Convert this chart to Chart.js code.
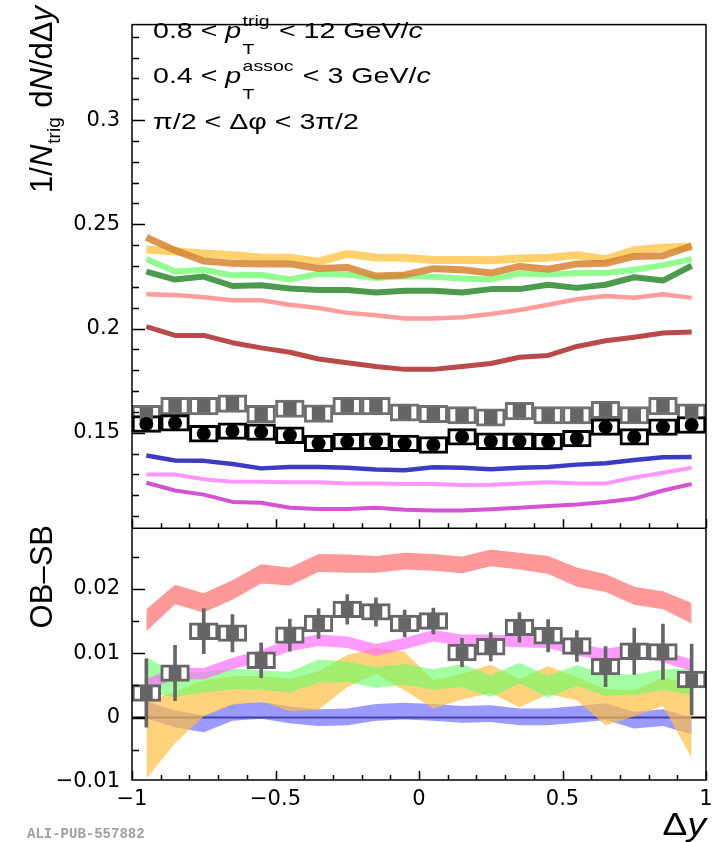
<!DOCTYPE html>
<html>
<head>
<meta charset="utf-8">
<script src="https://cdn.jsdelivr.net/npm/chart.js@4.4.0/dist/chart.umd.min.js"></script>
<style>
html, body { margin: 0; padding: 0; background: #fff; }
canvas { display: block; }
</style>
</head>
<body>
<canvas id="plot" width="725" height="842"></canvas>
<script>
// bin centres in delta-y
var dy = [-0.95, -0.85, -0.75, -0.65, -0.55, -0.45, -0.35, -0.25, -0.15, -0.05,
          0.05, 0.15, 0.25, 0.35, 0.45, 0.55, 0.65, 0.75, 0.85, 0.95];

var xTicks = [-1, -0.5, 0, 0.5, 1];
var xTickLabels = ['\u22121', '\u22120.5', '0', '0.5', '1'];
var topTicks = [0.15, 0.2, 0.25, 0.3];
var topTickLabels = ['0.15', '0.2', '0.25', '0.3'];
var botTicks = [-0.01, 0, 0.01, 0.02];
var botTickLabels = ['\u22120.01', '0', '0.01', '0.02'];

// upper panel, 1/Ntrig dN/d(delta y)
var yellowTop = [0.2379, 0.2369, 0.2360, 0.2352, 0.2341, 0.2340, 0.2321, 0.2358, 0.2341, 0.2340,
                 0.2329, 0.2329, 0.2327, 0.2336, 0.2340, 0.2352, 0.2332, 0.2375, 0.2388, 0.2393];
var orangeTop = [0.2437, 0.2375, 0.2324, 0.2313, 0.2310, 0.2310, 0.2288, 0.2293, 0.2252, 0.2257,
                 0.2287, 0.2282, 0.2266, 0.2298, 0.2284, 0.2310, 0.2313, 0.2346, 0.2349, 0.2396];
var ltGreenTop = [0.2333, 0.2274, 0.2282, 0.2255, 0.2257, 0.2235, 0.2262, 0.2259, 0.2242, 0.2251,
                  0.2248, 0.2240, 0.2235, 0.2264, 0.2259, 0.2266, 0.2266, 0.2282, 0.2304, 0.2332];
var dkGreenTop = [0.2273, 0.2235, 0.2249, 0.2204, 0.2208, 0.2192, 0.2185, 0.2185, 0.2173, 0.2181,
                  0.2181, 0.2173, 0.2189, 0.2189, 0.2210, 0.2195, 0.2210, 0.2246, 0.2230, 0.2301];
var ltRedTop = [0.2164, 0.2161, 0.2150, 0.2136, 0.2136, 0.2114, 0.2098, 0.2075, 0.2064, 0.2048,
                0.2048, 0.2054, 0.2070, 0.2089, 0.2114, 0.2140, 0.2156, 0.2148, 0.2164, 0.2147];
var dkRedTop = [0.2009, 0.1967, 0.1967, 0.1932, 0.1907, 0.1886, 0.1854, 0.1836, 0.1818, 0.1804,
                0.1804, 0.1818, 0.1832, 0.1862, 0.1871, 0.1914, 0.1941, 0.1958, 0.1978, 0.1983];
var grayTop = [0.1589, 0.1628, 0.1628, 0.1640, 0.1589, 0.1615, 0.1592, 0.1628, 0.1628, 0.1597,
               0.1590, 0.1584, 0.1573, 0.1604, 0.1584, 0.1584, 0.1609, 0.1584, 0.1628, 0.1597];
var blackTop = [0.1542, 0.1547, 0.1495, 0.1508, 0.1503, 0.1488, 0.1449, 0.1457, 0.1459, 0.1449,
                0.1441, 0.1480, 0.1459, 0.1459, 0.1457, 0.1472, 0.1527, 0.1480, 0.1527, 0.1537];
var grayTopSys = 0.0042;
var blackTopSys = 0.0040;
var blueTop = [0.1391, 0.1367, 0.1365, 0.1350, 0.1329, 0.1336, 0.1336, 0.1332, 0.1324, 0.1320,
               0.1334, 0.1332, 0.1325, 0.1332, 0.1336, 0.1347, 0.1354, 0.1369, 0.1382, 0.1383];
var pinkTop = [0.1300, 0.1300, 0.1277, 0.1265, 0.1265, 0.1262, 0.1262, 0.1257, 0.1257, 0.1254,
               0.1254, 0.1249, 0.1250, 0.1257, 0.1262, 0.1257, 0.1257, 0.1285, 0.1308, 0.1332];
var magentaTop = [0.1260, 0.1223, 0.1203, 0.1168, 0.1164, 0.1140, 0.1134, 0.1134, 0.1140, 0.1131,
                  0.1127, 0.1127, 0.1133, 0.1140, 0.1148, 0.1156, 0.1168, 0.1184, 0.1223, 0.1254];

// lower panel, OB-SB
var redDiff = [0.0151, 0.0191, 0.0178, 0.0198, 0.0223, 0.0219, 0.0240, 0.0239, 0.0238, 0.0243,
               0.0241, 0.0237, 0.0248, 0.0243, 0.0237, 0.0218, 0.0209, 0.0189, 0.0182, 0.0162];
var redErr = [0.0017, 0.0015, 0.0015, 0.0015, 0.0015, 0.0014, 0.0014, 0.0014, 0.0013, 0.0013,
              0.0013, 0.0013, 0.0013, 0.0013, 0.0014, 0.0015, 0.0014, 0.0014, 0.0014, 0.0016];
var magentaDiff = [0.0051, 0.0069, 0.0068, 0.0084, 0.0096, 0.0112, 0.0120, 0.0117, 0.0105, 0.0115,
                   0.0127, 0.0120, 0.0120, 0.0118, 0.0117, 0.0105, 0.0098, 0.0105, 0.0095, 0.0081];
var magentaErr = 0.0009;
var greenDiff = [0.0066, 0.0050, 0.0055, 0.0060, 0.0058, 0.0055, 0.0072, 0.0071, 0.0062, 0.0067,
                 0.0059, 0.0065, 0.0049, 0.0069, 0.0048, 0.0065, 0.0051, 0.0051, 0.0059, 0.0055];
var greenErr = [0.0028, 0.0018, 0.0016, 0.0016, 0.0015, 0.0016, 0.0018, 0.0016, 0.0016, 0.0016,
                0.0016, 0.0018, 0.0017, 0.0016, 0.0017, 0.0016, 0.0017, 0.0016, 0.0016, 0.0020];
var orangeDiff = [-0.0035, 0.0000, 0.0030, 0.0042, 0.0045, 0.0035, 0.0042, 0.0072, 0.0088, 0.0072,
                  0.0036, 0.0048, 0.0060, 0.0038, 0.0058, 0.0045, 0.0016, 0.0022, 0.0040, -0.0005];
var orangeErr = [0.0060, 0.0040, 0.0028, 0.0022, 0.0020, 0.0025, 0.0030, 0.0025, 0.0020, 0.0030,
                 0.0022, 0.0020, 0.0022, 0.0022, 0.0022, 0.0018, 0.0028, 0.0020, 0.0022, 0.0058];
var blueDiff = [0.0012, -0.0002, -0.0010, 0.0008, 0.0011, 0.0004, 0.0000, 0.0001, 0.0008, 0.0010,
                0.0008, 0.0005, 0.0006, 0.0001, 0.0001, 0.0005, 0.0009, -0.0004, 0.0000, -0.0013];
var blueErr = 0.0013;
var grayDiff = [0.0038, 0.0069, 0.0134, 0.0131, 0.0089, 0.0128, 0.0146, 0.0168, 0.0164, 0.0146,
                0.0150, 0.0101, 0.0110, 0.0140, 0.0127, 0.0111, 0.0079, 0.0103, 0.0102, 0.0059];
var grayStat = [0.0053, 0.0043, 0.0035, 0.0029, 0.0027, 0.0025, 0.0023, 0.0023, 0.0022, 0.0021,
                0.0020, 0.0022, 0.0022, 0.0023, 0.0025, 0.0024, 0.0031, 0.0036, 0.0043, 0.0055];
var graySys = 0.0013;

Chart.defaults.font.family = 'DejaVu Sans';
Chart.defaults.color = '#000';

function errAt(err, i) { return typeof err === 'number' ? err : err[i]; }
function pts(vals) { return vals.map(function (v, i) { return { x: dy[i], y: v }; }); }
function shifted(vals, err, sgn) { return vals.map(function (v, i) { return { x: dy[i], y: v + sgn * errAt(err, i) }; }); }
function spans(vals, err) { return vals.map(function (v, i) { return { x: dy[i], y: [v - errAt(err, i), v + errAt(err, i)] }; }); }

// pushed back to front
var datasets = [];
function add(ds) { ds.order = -datasets.length; datasets.push(ds); }

function topLine(vals, color, w) {
  add({ type: 'line', yAxisID: 'yTop', data: pts(vals), borderColor: color, borderWidth: w,
        pointRadius: 0, fill: false, tension: 0, borderCapStyle: 'butt', borderJoinStyle: 'round' });
}
function band(vals, err, color) {
  add({ type: 'line', yAxisID: 'yBot', data: shifted(vals, err, -1), borderWidth: 0,
        borderColor: 'rgba(0,0,0,0)', pointRadius: 0, fill: false });
  add({ type: 'line', yAxisID: 'yBot', data: shifted(vals, err, 1), borderWidth: 0,
        borderColor: 'rgba(0,0,0,0)', pointRadius: 0, fill: '-1', backgroundColor: color });
}
function boxes(axis, vals, err, color) {
  add({ type: 'bar', yAxisID: axis, data: spans(vals, err), backgroundColor: '#fff',
        borderColor: color, borderWidth: 3, borderSkipped: false, grouped: false,
        barPercentage: 1, categoryPercentage: 1 });
}
function markers(axis, vals, style, r, color) {
  add({ type: 'line', yAxisID: axis, data: pts(vals), showLine: false, pointStyle: style,
        pointRadius: r, pointBackgroundColor: color, pointBorderWidth: 0 });
}

// upper panel
topLine(dkRedTop, '#b94a4a', 5);
topLine(ltRedTop, '#ff9c9c', 4.5);
topLine(dkGreenTop, '#4c9a4c', 6);
topLine(ltGreenTop, '#90ff90', 6);
topLine(yellowTop, 'rgba(255,205,95,0.92)', 8);
topLine(orangeTop, 'rgba(214,132,52,0.85)', 7);
topLine(blueTop, '#3b3bc4', 4.5);
topLine(pinkTop, '#ff96ff', 4);
topLine(magentaTop, '#d452d4', 4);
boxes('yTop', grayTop, grayTopSys, '#707070');
boxes('yTop', blackTop, blackTopSys, '#000');
markers('yTop', grayTop, 'rect', 9.5, '#666');
markers('yTop', blackTop, 'circle', 7, '#000');

// lower panel
add({ type: 'line', yAxisID: 'yBot', data: [{ x: -1, y: 0 }, { x: 1, y: 0 }],
      borderColor: '#000', borderWidth: 2, pointRadius: 0, fill: false });
band(blueDiff, blueErr, 'rgba(100,100,255,0.65)');
band(orangeDiff, orangeErr, 'rgba(255,190,60,0.68)');
band(greenDiff, greenErr, 'rgba(100,255,100,0.6)');
band(magentaDiff, magentaErr, 'rgba(255,100,255,0.65)');
band(redDiff, redErr, 'rgba(255,110,110,0.7)');
add({ type: 'bar', yAxisID: 'yBot', data: spans(grayDiff, grayStat), backgroundColor: '#666',
      borderWidth: 0, barThickness: 3, grouped: false });
boxes('yBot', grayDiff, graySys, '#666');
markers('yBot', grayDiff, 'rect', 9, '#666');

var FONT = '"Liberation Sans"';
function fontOf(size, it) { return (it ? 'italic ' : '') + size + 'px ' + FONT; }
function runs(ctx, parts, size, x, y, draw) {
  parts.forEach(function (p) {
    if (p.t !== undefined) {
      ctx.font = fontOf(size, p.it);
      if (draw) ctx.fillText(p.t, x, y);
      x += ctx.measureText(p.t).width;
    } else {
      var s = Math.round(size * (p.scale || 0.68)), w = 0;
      ctx.font = fontOf(s, false);
      if (p.sup) {
        if (draw) ctx.fillText(p.sup, x + 1, y - size * 0.53);
        w = Math.max(w, ctx.measureText(p.sup).width);
      }
      if (p.sub) {
        if (draw) ctx.fillText(p.sub, x + 1, y + size * (p.subDy || 0.72));
        w = Math.max(w, ctx.measureText(p.sub).width);
      }
      x += w + 2;
    }
  });
  return x;
}

var decor = {
  id: 'decor',
  afterDraw: function (chart) {
    var ctx = chart.ctx, a = chart.chartArea;
    var sx = chart.scales.x, sT = chart.scales.yTop, sB = chart.scales.yBot;
    ctx.save();
    ctx.strokeStyle = '#000';
    ctx.lineWidth = 1.5;
    ctx.beginPath();
    function yMarks(s, major, step, big, small) {
      for (var k = Math.ceil(s.min / step - 1e-6); k * step <= s.max + 1e-9; k++) {
        var v = k * step;
        var isMajor = major.some(function (m) { return Math.abs(m - v) < 1e-7; });
        var py = Math.round(s.getPixelForValue(v)) + 0.5;
        ctx.moveTo(a.left, py);
        ctx.lineTo(a.left + (isMajor ? big : small), py);
      }
    }
    function xMarks(edge) {
      for (var k = -10; k <= 10; k++) {
        var v = k / 10;
        var isMajor = xTicks.some(function (m) { return Math.abs(m - v) < 1e-7; });
        var px = Math.round(sx.getPixelForValue(v)) + 0.5;
        ctx.moveTo(px, edge);
        ctx.lineTo(px, edge - (isMajor ? 9 : 5));
      }
    }
    yMarks(sT, topTicks, 0.01, 13, 7);
    yMarks(sB, botTicks, 0.005, 13, 7);
    xMarks(sT.bottom);
    xMarks(sB.bottom);
    ctx.stroke();
    ctx.strokeRect(a.left, a.top, a.right - a.left, a.bottom - a.top);
    ctx.beginPath();
    ctx.moveTo(a.left, sT.bottom);
    ctx.lineTo(a.right, sT.bottom);
    ctx.stroke();

    ctx.fillStyle = '#000';
    ctx.textBaseline = 'alphabetic';
    ctx.textAlign = 'left';
    var lines = [
      [{ t: '0.8 < ' }, { t: 'p', it: true }, { sub: 'T', sup: 'trig' }, { t: ' < 12 GeV/' }, { t: 'c', it: true }],
      [{ t: '0.4 < ' }, { t: 'p', it: true }, { sub: 'T', sup: 'assoc' }, { t: ' < 3 GeV/' }, { t: 'c', it: true }],
      [{ t: '\u03c0/2 < \u0394\u03c6 < 3\u03c0/2' }]
    ];
    var bases = [38, 83, 129];
    lines.forEach(function (parts, i) {
      ctx.save();
      ctx.translate(153, bases[i]);
      ctx.scale(1.3, 1);
      runs(ctx, parts, 22, 0, 0, true);
      ctx.restore();
    });

    function vTitle(parts, size, x, yEnd) {
      ctx.save();
      ctx.translate(x, yEnd);
      ctx.rotate(-Math.PI / 2);
      var w = runs(ctx, parts, size, 0, 0, false);
      runs(ctx, parts, size, -w, 0, true);
      ctx.restore();
    }
    vTitle([{ t: '1/' }, { t: 'N', it: true }, { sub: 'trig', subDy: 0.25, scale: 0.62 },
            { t: ' d' }, { t: 'N', it: true }, { t: '/d\u0394' }, { t: 'y', it: true }],
           31, 52, 6);
    vTitle([{ t: 'OB\u2013SB' }], 31, 52, 525);

    ctx.save();
    ctx.translate(706, 835);
    ctx.scale(1.2, 1);
    var parts = [{ t: '\u0394' }, { t: 'y', it: true }];
    var w = runs(ctx, parts, 31, 0, 0, false);
    runs(ctx, parts, 31, -w, 0, true);
    ctx.restore();

    ctx.font = 'bold 14px "Liberation Mono"';
    ctx.fillStyle = '#a0a0a0';
    ctx.fillText('ALI-PUB-557882', 27, 838);
    ctx.restore();
  }
};

function fixedTicks(vals) {
  return function (s) { s.ticks = vals.map(function (v) { return { value: v }; }); };
}

new Chart(document.getElementById('plot'), {
  type: 'line',
  data: { datasets: datasets },
  options: {
    responsive: false,
    animation: false,
    devicePixelRatio: 1,
    layout: { padding: { left: 0, right: 19, top: 5, bottom: 0 } },
    plugins: { legend: { display: false }, tooltip: { enabled: false } },
    scales: {
      x: {
        type: 'linear', position: 'bottom', min: -1, max: 1, offset: false,
        grid: { display: false, drawTicks: false, offset: false }, border: { display: false },
        afterBuildTicks: fixedTicks(xTicks),
        afterFit: function (s) { s.height = 62; },
        ticks: { font: { size: 21 }, padding: 7, maxRotation: 0, minRotation: 0, autoSkip: false,
                 callback: function (v, i) { return xTickLabels[i]; } }
      },
      yBot: {
        type: 'linear', position: 'left', stack: 'panels', stackWeight: 1,
        min: -0.0097, max: 0.0294, bounds: 'data',
        grid: { display: false, drawTicks: false }, border: { display: false },
        afterBuildTicks: fixedTicks(botTicks),
        afterFit: function (s) { s.width = 132; },
        ticks: { font: { size: 21 }, padding: 12, autoSkip: false,
                 callback: function (v, i) { return botTickLabels[i]; } }
      },
      yTop: {
        type: 'linear', position: 'left', stack: 'panels', stackWeight: 2,
        min: 0.1042, max: 0.3458, bounds: 'data',
        grid: { display: false, drawTicks: false }, border: { display: false },
        afterBuildTicks: fixedTicks(topTicks),
        afterFit: function (s) { s.width = 132; },
        ticks: { font: { size: 21 }, padding: 12, autoSkip: false,
                 callback: function (v, i) { return topTickLabels[i]; } }
      }
    }
  },
  plugins: [decor]
});
</script>
</body>
</html>
